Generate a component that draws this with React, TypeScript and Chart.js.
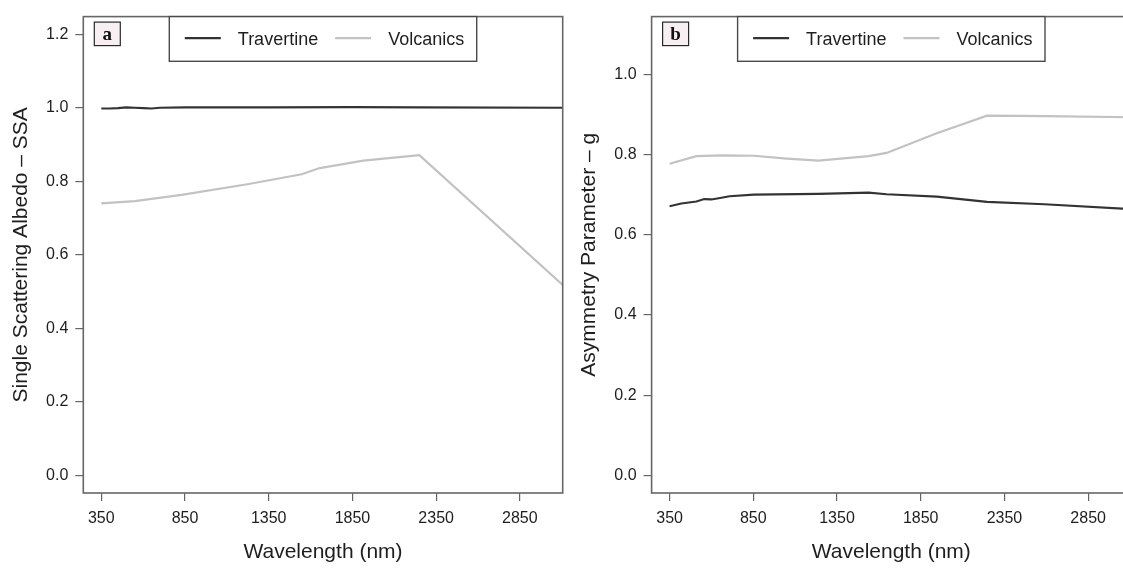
import { useEffect, useRef } from "react";
import { Chart, registerables } from "chart.js";

Chart.register(...registerables);

// ---- data -----------------------------------------------------------------
const wavelengthTicks = [350, 850, 1350, 1850, 2350, 2850];
const ssaTicks = [0, 0.2, 0.4, 0.6, 0.8, 1.0, 1.2];
const gTicks = [0, 0.2, 0.4, 0.6, 0.8, 1.0];

// Single scattering albedo (panel a)
const ssaTravertineWl = [350, 400, 450, 500, 550, 600, 650, 700, 850, 1350, 1850, 2250, 3106];
const ssaTravertine = [0.998, 0.998, 0.999, 1.001, 1.0, 0.999, 0.998, 1.0, 1.001, 1.001, 1.002, 1.001, 1.0];
const ssaVolcanicsWl = [350, 550, 830, 1222, 1547, 1655, 1915, 2250, 3106];
const ssaVolcanics = [0.74, 0.746, 0.763, 0.792, 0.819, 0.836, 0.856, 0.871, 0.518];

// Asymmetry parameter g (panel b)
const gTravertineWl = [350, 420, 510, 557, 600, 643, 708, 853, 1239, 1539, 1646, 1946, 2246, 2589, 3106];
const gTravertine = [0.671, 0.678, 0.683, 0.689, 0.688, 0.691, 0.696, 0.7, 0.702, 0.705, 0.701, 0.695, 0.682, 0.676, 0.664];
const gVolcanicsWl = [350, 510, 660, 853, 1050, 1239, 1539, 1646, 1946, 2246, 2589, 3106];
const gVolcanics = [0.777, 0.796, 0.798, 0.797, 0.79, 0.785, 0.796, 0.804, 0.853, 0.897, 0.896, 0.893];

const seriesNames = ["Travertine", "Volcanics"];
const seriesColors = ["#333333", "#c2c2c2"];

// ---- styling ----------------------------------------------------------------
const X_MIN = 242.5;
const X_MAX = 3106;
const SANS = "'Liberation Sans', Arial, Helvetica, sans-serif";
const SERIF = "'Liberation Serif', 'Times New Roman', serif";
const AXIS_GREY = "#666666";
const TEXT = "#1e1e1e";

const toPoints = (xs: number[], ys: number[]) => xs.map((x, i) => ({ x, y: ys[i] }));

// Frame, panel letter and top-centred legend drawn on top of the plot area
function panelDecor(letter: string) {
  return {
    id: "panelDecor" + letter,
    afterDraw(chart: any) {
      const { ctx, chartArea: a } = chart;
      ctx.save();
      // plot frame
      ctx.strokeStyle = AXIS_GREY;
      ctx.lineWidth = 1.6;
      ctx.strokeRect(a.left, a.top, a.right - a.left, a.bottom - a.top);

      // panel letter tag
      const bx = a.left + 11;
      const by = a.top + 5.5;
      ctx.fillStyle = "#f8eff2";
      ctx.fillRect(bx, by, 26, 23.5);
      ctx.strokeStyle = "#2a2a2a";
      ctx.lineWidth = 1.2;
      ctx.strokeRect(bx, by, 26, 23.5);
      ctx.fillStyle = "#111";
      ctx.font = `bold 19px ${SERIF}`;
      ctx.textAlign = "center";
      ctx.textBaseline = "middle";
      ctx.fillText(letter, bx + 13, by + 12.5);

      // legend
      ctx.font = `18px ${SANS}`;
      const items = chart.data.datasets.map((d: any) => ({
        label: d.label as string,
        color: d.borderColor as string,
        w: ctx.measureText(d.label).width,
      }));
      const lineLen = 36;
      const padL = 15.5;
      const gap = 17;
      const padR = 12.5;
      let width = padL + padR;
      items.forEach((it: any, i: number) => {
        width += lineLen + gap + it.w + (i < items.length - 1 ? gap : 0);
      });
      const height = 44.7;
      const cx = (a.left + a.right) / 2;
      const lx = cx - width / 2;
      const ly = a.top;
      ctx.fillStyle = "#ffffff";
      ctx.fillRect(lx, ly, width, height);
      ctx.strokeStyle = "#4a4a4a";
      ctx.lineWidth = 1.4;
      ctx.strokeRect(lx, ly, width, height);
      let x = lx + padL;
      ctx.textAlign = "left";
      ctx.textBaseline = "middle";
      items.forEach((it: any) => {
        ctx.strokeStyle = it.color;
        ctx.lineWidth = 2.2;
        ctx.beginPath();
        ctx.moveTo(x, ly + 21.5);
        ctx.lineTo(x + lineLen, ly + 21.5);
        ctx.stroke();
        x += lineLen + gap;
        ctx.fillStyle = TEXT;
        ctx.fillText(it.label, x, ly + 23.5);
        x += it.w + gap;
      });
      ctx.restore();
    },
  };
}

function buildScales(opts: {
  yMin: number;
  yMax: number;
  yTicks: number[];
  yTitle: string;
  yAxisWidth: number;
  yTitlePad: number;
}) {
  return {
    x: {
      type: "linear",
      min: X_MIN,
      max: X_MAX,
      afterBuildTicks: (s: any) => {
        s.ticks = wavelengthTicks.map((v) => ({ value: v }));
      },
      afterFit: (s: any) => {
        s.height = 75;
      },
      grid: { drawOnChartArea: false, drawTicks: true, tickLength: 8, color: AXIS_GREY, lineWidth: 1.2 },
      border: { display: false },
      ticks: {
        padding: 8,
        color: TEXT,
        autoSkip: false,
        maxRotation: 0,
        font: { family: SANS, size: 16 },
        callback: (v: any) => String(v),
      },
      title: {
        display: true,
        text: "Wavelength (nm)",
        color: TEXT,
        font: { family: SANS, size: 21, lineHeight: 1.2 },
        padding: { top: 0, bottom: 3.5 },
      },
    },
    y: {
      type: "linear",
      min: opts.yMin,
      max: opts.yMax,
      afterBuildTicks: (s: any) => {
        s.ticks = opts.yTicks.map((v) => ({ value: v }));
      },
      afterFit: (s: any) => {
        s.width = opts.yAxisWidth;
      },
      grid: { drawOnChartArea: false, drawTicks: true, tickLength: 8, color: AXIS_GREY, lineWidth: 1.2 },
      border: { display: false },
      ticks: {
        padding: 7,
        color: TEXT,
        autoSkip: false,
        font: { family: SANS, size: 16 },
        callback: (v: any) => Number(v).toFixed(1),
      },
      title: {
        display: true,
        text: opts.yTitle,
        color: TEXT,
        font: { family: SANS, size: 21, lineHeight: 1.2 },
        padding: { top: opts.yTitlePad, bottom: 0 },
      },
    },
  };
}

function makeConfig(
  letter: string,
  travertine: { x: number; y: number }[],
  volcanics: { x: number; y: number }[],
  scales: any,
  padRight: number
): any {
  return {
    type: "line",
    data: {
      datasets: [travertine, volcanics].map((pts, i) => ({
        label: seriesNames[i],
        data: pts,
        borderColor: seriesColors[i],
        borderWidth: 2.2,
        pointRadius: 0,
        tension: 0,
        fill: false,
      })),
    },
    options: {
      responsive: false,
      animation: false,
      devicePixelRatio: 1,
      layout: { padding: { top: 12, right: padRight, bottom: 0, left: 0 } },
      plugins: { legend: { display: false }, tooltip: { enabled: false } },
      scales,
    },
    plugins: [panelDecor(letter)],
  };
}

function Panel({ left, width, config }: { left: number; width: number; config: any }) {
  const ref = useRef<HTMLCanvasElement | null>(null);
  useEffect(() => {
    if (!ref.current) return;
    const chart = new Chart(ref.current, config);
    return () => chart.destroy();
  }, [config]);
  return (
    <canvas
      ref={ref}
      width={width}
      height={568}
      style={{ position: "absolute", left, top: 0, width, height: 568 }}
    />
  );
}

const configA = makeConfig(
  "a",
  toPoints(ssaTravertineWl, ssaTravertine),
  toPoints(ssaVolcanicsWl, ssaVolcanics),
  buildScales({
    yMin: -0.048,
    yMax: 1.248,
    yTicks: ssaTicks,
    yTitle: "Single Scattering Albedo \u2013 SSA",
    yAxisWidth: 83.3,
    yTitlePad: 8.4,
  }),
  7.3
);

const configB = makeConfig(
  "b",
  toPoints(gTravertineWl, gTravertine),
  toPoints(gVolcanicsWl, gVolcanics),
  buildScales({
    yMin: -0.044,
    yMax: 1.144,
    yTicks: gTicks,
    yTitle: "Asymmetry Parameter \u2013 g",
    yAxisWidth: 86.6,
    yTitlePad: 11.7,
  }),
  14
);

export default function App() {
  return (
    <div
      style={{
        position: "fixed",
        left: 0,
        top: 0,
        width: 1123,
        height: 568,
        overflow: "hidden",
        background: "#ffffff",
      }}
    >
      <Panel left={0} width={570} config={configA} />
      <Panel left={565} width={580} config={configB} />
    </div>
  );
}
